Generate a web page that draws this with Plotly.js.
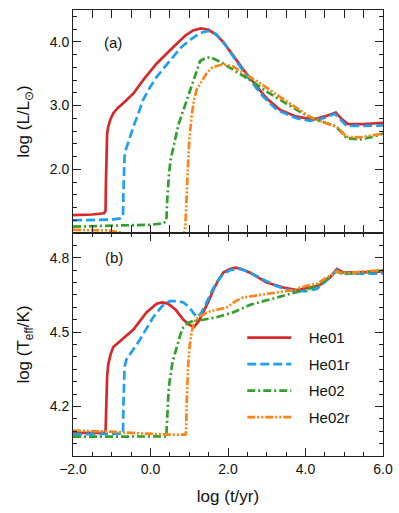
<!DOCTYPE html>
<html>
<head>
<meta charset="utf-8">
<script src="https://cdn.plot.ly/plotly-3.0.1.min.js"></script>
<style>
  html, body { margin: 0; padding: 0; background: #fff; }
  #chart { width: 399px; height: 513px; }
</style>
</head>
<body>
<div id="chart"></div>
<script>
// series names
const names = ["He01", "He01r", "He02", "He02r"];

// panel (a): log L/Lsun vs log t
const he01LumX = [-2.0, -1.5, -1.2, -1.16, -1.15, -1.14, -1.12, -1.09, -1.03, -0.96, -0.85, -0.7, -0.44, -0.19, 0.16, 0.59, 0.9, 1.1, 1.3, 1.5, 1.7, 1.9, 2.15, 2.4, 2.65, 3.0, 3.35, 3.75, 4.2, 4.5, 4.78, 4.95, 5.1, 5.5, 6.0];
const he01LumY = [1.28, 1.29, 1.31, 1.35, 1.8, 2.3, 2.55, 2.67, 2.79, 2.88, 2.96, 3.04, 3.19, 3.40, 3.66, 3.92, 4.1, 4.18, 4.21, 4.19, 4.11, 3.98, 3.77, 3.56, 3.37, 3.11, 2.93, 2.83, 2.78, 2.83, 2.89, 2.78, 2.71, 2.71, 2.73];

const he01rLumX = [-2.0, -1.5, -1.0, -0.78, -0.71, -0.70, -0.69, -0.67, -0.64, -0.6, -0.52, -0.44, -0.3, -0.19, 0.0, 0.16, 0.4, 0.59, 0.8, 1.02, 1.28, 1.5, 1.7, 1.97, 2.22, 2.57, 2.91, 3.26, 3.77, 4.12, 4.46, 4.76, 4.9, 5.06, 5.5, 6.0];
const he01rLumY = [1.20, 1.20, 1.21, 1.23, 1.26, 1.6, 2.0, 2.2, 2.3, 2.38, 2.52, 2.67, 2.9, 3.09, 3.3, 3.45, 3.63, 3.77, 3.92, 4.03, 4.14, 4.17, 4.12, 3.92, 3.69, 3.40, 3.14, 2.93, 2.80, 2.76, 2.80, 2.87, 2.78, 2.68, 2.68, 2.69];

const he02LumX = [-2.0, -1.0, 0.0, 0.33, 0.41, 0.43, 0.45, 0.48, 0.52, 0.58, 0.63, 0.72, 0.85, 0.95, 1.06, 1.17, 1.28, 1.4, 1.54, 1.79, 2.14, 2.57, 3.0, 3.43, 3.86, 4.29, 4.72, 4.85, 5.06, 5.41, 5.75, 6.0];
const he02LumY = [1.10, 1.11, 1.13, 1.15, 1.19, 1.5, 1.75, 1.95, 2.15, 2.33, 2.46, 2.7, 2.93, 3.12, 3.30, 3.50, 3.70, 3.74, 3.76, 3.69, 3.56, 3.40, 3.22, 3.06, 2.90, 2.77, 2.69, 2.63, 2.49, 2.47, 2.51, 2.56];

const he02rLumX = [-2.0, -1.5, -1.1, -0.8, -0.5, 0.0, 0.5, 0.85, 0.9, 0.92, 0.94, 0.97, 1.0, 1.06, 1.12, 1.19, 1.28, 1.45, 1.6, 1.88, 2.14, 2.48, 2.83, 3.26, 3.69, 4.12, 4.55, 4.80, 5.06, 5.41, 6.0];
const he02rLumY = [1.05, 1.05, 1.04, 1.01, 0.98, 0.95, 0.93, 0.95, 1.1, 1.4, 1.8, 2.1, 2.45, 2.83, 3.08, 3.25, 3.34, 3.51, 3.60, 3.65, 3.61, 3.48, 3.35, 3.17, 3.0, 2.82, 2.72, 2.67, 2.51, 2.50, 2.56];

// panel (b): log Teff vs log t
const he01TeffX = [-2.0, -1.5, -1.16, -1.15, -1.14, -1.12, -1.09, -1.03, -0.96, -0.7, -0.44, -0.1, 0.16, 0.3, 0.45, 0.65, 0.85, 1.0, 1.12, 1.25, 1.36, 1.5, 1.62, 1.75, 1.88, 2.05, 2.2, 2.35, 2.57, 2.8, 3.0, 3.43, 3.77, 4.12, 4.37, 4.63, 4.81, 4.98, 5.15, 5.6, 6.0];
const he01TeffY = [4.093, 4.093, 4.093, 4.15, 4.25, 4.32, 4.37, 4.41, 4.44, 4.475, 4.51, 4.58, 4.615, 4.62, 4.615, 4.59, 4.55, 4.53, 4.52, 4.545, 4.58, 4.625, 4.67, 4.71, 4.74, 4.755, 4.76, 4.755, 4.74, 4.72, 4.70, 4.68, 4.67, 4.68, 4.69, 4.72, 4.755, 4.74, 4.74, 4.742, 4.745];

const he01rTeffX = [-2.0, -1.5, -1.0, -0.71, -0.70, -0.69, -0.67, -0.62, -0.45, -0.27, 0.07, 0.3, 0.5, 0.7, 0.85, 1.0, 1.19, 1.3, 1.45, 1.58, 1.71, 1.85, 2.05, 2.31, 2.5, 2.74, 3.0, 3.26, 3.69, 4.0, 4.29, 4.63, 4.81, 5.06, 5.5, 6.0];
const he01rTeffY = [4.088, 4.088, 4.088, 4.09, 4.2, 4.3, 4.36, 4.39, 4.43, 4.47, 4.56, 4.605, 4.625, 4.625, 4.62, 4.60, 4.56, 4.575, 4.62, 4.665, 4.70, 4.73, 4.75, 4.755, 4.745, 4.725, 4.705, 4.685, 4.665, 4.665, 4.674, 4.72, 4.75, 4.736, 4.736, 4.736];

const he02TeffX = [-2.0, -1.0, 0.0, 0.41, 0.42, 0.44, 0.47, 0.50, 0.57, 0.68, 0.77, 0.85, 0.95, 1.1, 1.36, 1.71, 2.14, 2.57, 3.0, 3.43, 3.94, 4.29, 4.55, 4.81, 4.95, 5.1, 5.5, 6.0];
const he02TeffY = [4.078, 4.078, 4.078, 4.079, 4.12, 4.2, 4.27, 4.31, 4.38, 4.44, 4.49, 4.52, 4.535, 4.545, 4.55, 4.56, 4.58, 4.61, 4.63, 4.647, 4.668, 4.685, 4.714, 4.745, 4.735, 4.735, 4.742, 4.75];

const he02rTeffX = [-2.0, -1.5, -1.0, -0.5, 0.0, 0.5, 0.9, 0.92, 0.93, 0.95, 0.97, 1.0, 1.06, 1.15, 1.28, 1.54, 1.97, 2.2, 2.39, 2.83, 3.26, 3.69, 4.03, 4.29, 4.55, 4.81, 4.95, 5.1, 5.5, 6.0];
const he02rTeffY = [4.103, 4.102, 4.098, 4.093, 4.088, 4.086, 4.086, 4.1, 4.2, 4.3, 4.36, 4.43, 4.5, 4.55, 4.565, 4.584, 4.60, 4.625, 4.64, 4.65, 4.66, 4.67, 4.687, 4.695, 4.72, 4.745, 4.738, 4.738, 4.745, 4.75];

const colors = ["#d62a2a", "#1e9ff0", "#33a02c", "#ff8415"];
const dashes = ["solid", "9px,4px", "8px,3px,2px,3px", "8px,2px,2px,2px,2px,2px"];

const lumX = [he01LumX, he01rLumX, he02LumX, he02rLumX];
const lumY = [he01LumY, he01rLumY, he02LumY, he02rLumY];
const teffX = [he01TeffX, he01rTeffX, he02TeffX, he02rTeffX];
const teffY = [he01TeffY, he01rTeffY, he02TeffY, he02rTeffY];

const font = "Liberation Sans, Arial, Helvetica, sans-serif";
const pad = "\u00a0\u00a0\u00a0";
const traces = [];
names.forEach((name, i) => {
  traces.push({
    x: lumX[i], y: lumY[i], xaxis: "x", yaxis: "y",
    type: "scatter", mode: "lines", name: name, showlegend: false,
    line: { color: colors[i], width: 2.7, dash: dashes[i] },
  });
});
names.forEach((name, i) => {
  traces.push({
    x: teffX[i], y: teffY[i], xaxis: "x", yaxis: "y2",
    type: "scatter", mode: "lines", name: pad + name, legendgroup: name,
    line: { color: colors[i], width: 2.7, dash: dashes[i] },
  });
});

const axisBase = {
  showline: true, linecolor: "#222", linewidth: 1,
  mirror: "allticks", ticks: "inside", ticklen: 8, tickwidth: 1, tickcolor: "#222",
  showgrid: false, zeroline: false,
  tickfont: { family: font, size: 14, color: "#111" },
};

const layout = {
  width: 399, height: 513,
  margin: { l: 73, r: 16, t: 10, b: 57 },
  paper_bgcolor: "#fff", plot_bgcolor: "#fff",
  font: { family: font, color: "#111" },
  xaxis: Object.assign({}, axisBase, {
    anchor: "y2", range: [-2, 6], tick0: -2, dtick: 2, tickformat: ".1f",
    minor: { dtick: 0.5, ticklen: 4, ticks: "inside", tickcolor: "#222" },
    title: { text: "log (t/yr)", font: { family: font, size: 17 }, standoff: 14 },
  }),
  yaxis: Object.assign({}, axisBase, {
    domain: [0.5, 1], range: [1.0, 4.5], tickformat: ".1f",
    tickvals: [2, 3, 4],
    minor: { dtick: 0.2, tick0: 1, ticklen: 4, ticks: "inside", tickcolor: "#222" },
    title: { text: "log (L/L<sub>⊙</sub>)", font: { family: font, size: 17 } },
  }),
  yaxis2: Object.assign({}, axisBase, {
    domain: [0, 0.5], range: [4.0, 4.9], tick0: 4.2, dtick: 0.3, tickformat: ".1f",
    minor: { dtick: 0.05, tick0: 4.0, ticklen: 4, ticks: "inside", tickcolor: "#222" },
    title: { text: "log (T<sub>eff</sub>/K)", font: { family: font, size: 17 } },
  }),
  legend: {
    x: 0.546, y: 0.302, xanchor: "left", yanchor: "top",
    bgcolor: "rgba(0,0,0,0)", borderwidth: 0,
    font: { family: font, size: 15, color: "#111" },
    tracegroupgap: 4, itemwidth: 44,
  },
  annotations: [
    { text: "(a)", xref: "paper", yref: "paper", x: 0.094, y: 0.95, showarrow: false,
      font: { family: font, size: 15 } },
    { text: "(b)", xref: "paper", yref: "paper", x: 0.097, y: 0.446, showarrow: false,
      font: { family: font, size: 15 } },
  ],
};

Plotly.newPlot(document.getElementById("chart"), traces, layout, { displayModeBar: false, staticPlot: true });
</script>
</body>
</html>
